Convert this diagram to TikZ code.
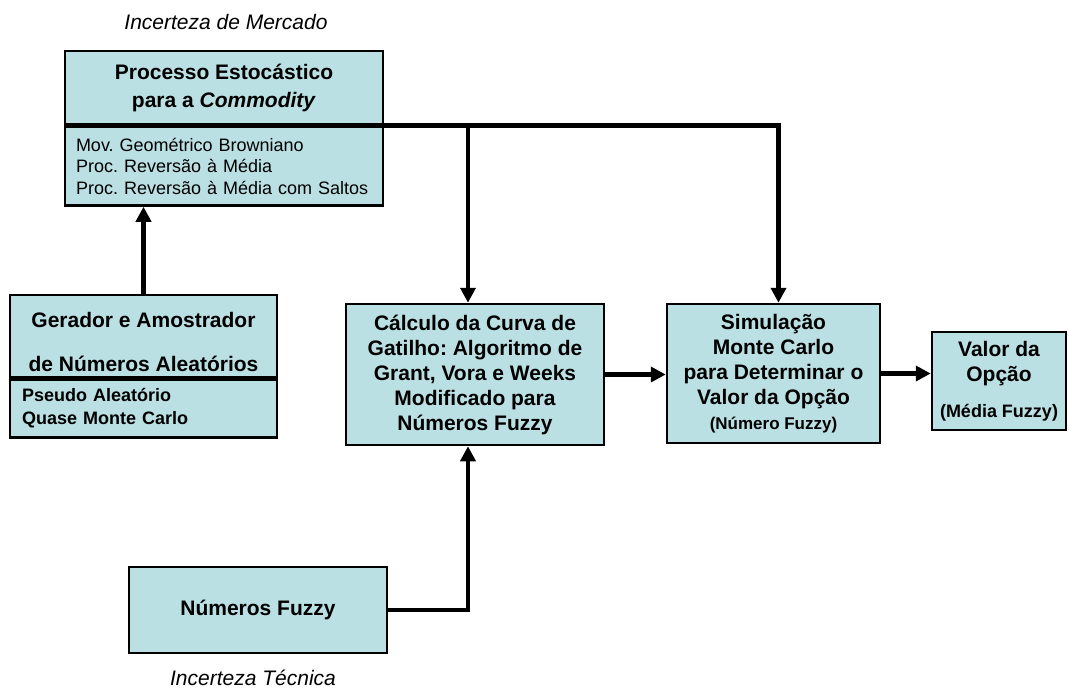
\documentclass[tikz,border=0pt]{standalone}
\usepackage{fontspec}
\setmainfont{Liberation Sans}
\usepackage{tikz}
\usetikzlibrary{arrows.meta, positioning, calc}
\definecolor{boxcyan}{RGB}{187,224,227}
\frenchspacing
\tikzset{
    block/.style={rectangle, draw=black, fill=boxcyan, line width=2.5pt,
                  inner sep=0pt, text centered, align=center,
                  font=\fontsize{21}{25}\selectfont\bfseries},
    listblock/.style={block, align=left, inner xsep=12pt},
    arrow/.style={-{Triangle[length=15pt,width=15pt]}, line width=4.5pt},
    note/.style={font=\fontsize{21}{24}\selectfont\itshape}
}
\begin{document}
\begin{tikzpicture}[x=1pt, y=-1pt]
    \useasboundingbox (0,0) rectangle (1069,691);

    % incerteza de mercado
    \node[note] (mercado) at (226,22) {Incerteza de Mercado};
    \node[block, minimum width=318pt, minimum height=73pt,
          font=\fontsize{21}{28}\selectfont\bfseries] (prochead) at (224,87.5)
          {Processo Estocástico\\para a \textit{Commodity}};
    \node[listblock, inner xsep=11pt, text width=296pt, minimum height=79pt,
          font=\fontsize{18}{21.5}\selectfont, below=0pt of prochead] (procbody)
          {Mov. Geométrico Browniano\\Proc. Reversão à Média\\Proc. Reversão à Média com Saltos};

    % gerador
    \node[block, minimum width=267pt, minimum height=82pt,
          font=\fontsize{21}{44}\selectfont\bfseries] (genhead) at (143.5,336)
          {\rule{0pt}{27pt}Gerador e Amostrador\\de Números Aleatórios};
    \node[listblock, text width=243pt, minimum height=58pt,
          font=\fontsize{18}{23}\selectfont\bfseries, below=0pt of genhead] (genbody)
          {Pseudo Aleatório\\Quase Monte Carlo};

    % cadeia principal
    \node[block, minimum width=258pt, minimum height=141pt] (calc) at (475,374.5)
          {Cálculo da Curva de\\Gatilho: Algoritmo de\\Grant, Vora e Weeks\\Modificado para\\Números Fuzzy};
    \node[block, minimum width=213pt, minimum height=139pt] (simul) at (773.5,373.5)
          {Simulação\\Monte Carlo\\para Determinar o\\Valor da Opção\\{\fontsize{17}{20}\selectfont(Número Fuzzy)}};
    \node[block, minimum width=134pt, minimum height=98pt] (valor) at (999,381)
          {Valor da\\Opção\\[11pt]{\fontsize{18}{22}\selectfont(Média Fuzzy)}};

    % incerteza tecnica
    \node[block, minimum width=258pt, minimum height=86pt] (fuzzy) at (258,610)
          {Números Fuzzy};
    \node[note] (tecnica) at (253,678) {Incerteza Técnica};

    \coordinate (split) at ([xshift=-7pt]calc.north |- prochead.south east);

    \draw[arrow] (genhead.north) -- (genhead.north |- procbody.south);
    \draw[arrow] (prochead.south east) -| ([xshift=5pt]simul.north);
    \draw[arrow] (split) -- ([xshift=-7pt]calc.north);
    \draw[arrow] (fuzzy.east) -| ([xshift=-7pt]calc.south);
    \draw[arrow] (calc.east) -- (calc.east -| simul.west);
    \draw[arrow] (simul.east) -- (simul.east -| valor.west);
\end{tikzpicture}
\end{document}
